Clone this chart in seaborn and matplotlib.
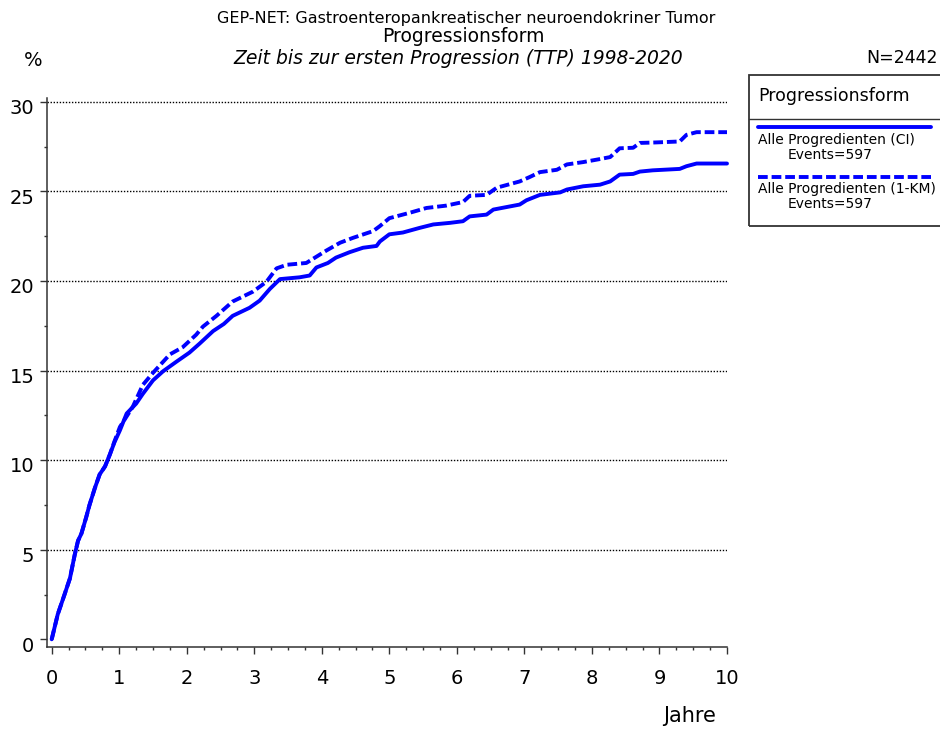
import numpy as np
import pandas as pd
import matplotlib
matplotlib.use("Agg")
import matplotlib.pyplot as plt
import seaborn as sns
from matplotlib.lines import Line2D
from matplotlib.patches import Rectangle
from matplotlib.ticker import MultipleLocator, FixedLocator
import matplotlib.transforms as mtransforms

# ---------------- data ----------------
t_ci = [0.0, 0.09, 0.19, 0.27, 0.34, 0.39, 0.44, 0.51, 0.56, 0.64, 0.71, 0.79, 0.86, 0.93,
        1.01, 1.11, 1.25, 1.35, 1.5, 1.65, 1.85, 2.04, 2.19, 2.39, 2.55, 2.68, 2.93, 3.08,
        3.23, 3.38, 3.67, 3.82, 3.92, 4.09, 4.21, 4.41, 4.61, 4.81, 4.86, 5.0, 5.2, 5.45,
        5.65, 5.9, 6.09, 6.19, 6.44, 6.54, 6.93, 7.03, 7.23, 7.53, 7.63, 7.87, 8.12, 8.27,
        8.41, 8.61, 8.71, 8.9, 9.3, 9.4, 9.55, 10.0]
v_ci = [0.0, 1.4, 2.5, 3.4, 4.7, 5.5, 5.9, 6.8, 7.5, 8.45, 9.2, 9.65, 10.3, 11.0,
        11.66, 12.6, 13.15, 13.7, 14.45, 14.96, 15.5, 16.0, 16.5, 17.2, 17.6, 18.05, 18.5, 18.9,
        19.55, 20.1, 20.2, 20.3, 20.75, 21.0, 21.3, 21.6, 21.85, 21.95, 22.2, 22.6, 22.7, 22.96,
        23.15, 23.24, 23.33, 23.6, 23.7, 23.98, 24.26, 24.5, 24.8, 24.94, 25.1, 25.28, 25.37, 25.55,
        25.93, 25.97, 26.1, 26.17, 26.25, 26.4, 26.55, 26.55]

t_km = [0.0, 0.09, 0.19, 0.27, 0.34, 0.39, 0.44, 0.51, 0.56, 0.64, 0.71, 0.79, 0.86, 0.93,
        1.01, 1.2, 1.35, 1.5, 1.75, 1.94, 2.14, 2.24, 2.44, 2.68, 2.98, 3.18, 3.33, 3.48,
        3.77, 3.92, 4.07, 4.27, 4.46, 4.76, 4.86, 5.0, 5.3, 5.55, 5.84, 6.09, 6.19, 6.44,
        6.59, 6.93, 7.08, 7.23, 7.48, 7.63, 7.87, 8.12, 8.27, 8.41, 8.61, 8.71, 8.9, 9.3,
        9.4, 9.55, 10.0]
v_km = [0.0, 1.4, 2.5, 3.4, 4.7, 5.5, 5.9, 6.8, 7.5, 8.45, 9.2, 9.65, 10.3, 11.05,
        11.85, 12.97, 14.2, 14.87, 15.9, 16.3, 17.0, 17.45, 18.05, 18.85, 19.4, 19.95, 20.7, 20.9,
        21.0, 21.35, 21.7, 22.13, 22.4, 22.78, 23.06, 23.5, 23.8, 24.07, 24.2, 24.4, 24.75, 24.8,
        25.2, 25.55, 25.8, 26.07, 26.2, 26.5, 26.63, 26.8, 26.91, 27.4, 27.43, 27.7, 27.72, 27.78,
        28.15, 28.3, 28.3]

series_names = ["Alle Progredienten (CI)", "Alle Progredienten (1-KM)"]
events = [597, 597]
n_total = 2442
x_ticks = [0, 1, 2, 3, 4, 5, 6, 7, 8, 9, 10]
y_ticks = [0, 5, 10, 15, 20, 25, 30]

title1 = "GEP-NET: Gastroenteropankreatischer neuroendokriner Tumor"
title2 = "Progressionsform"
title3 = "Zeit bis zur ersten Progression (TTP) 1998-2020"
legend_title = "Progressionsform"

# ---------------- style ----------------
sns.set_style("ticks")
plt.rcParams['font.family'] = ['DejaVu Sans']
plt.rcParams['text.color'] = 'black'
plt.rcParams['xtick.color'] = '#333333'
plt.rcParams['ytick.color'] = '#333333'
plt.rcParams['xtick.labelcolor'] = 'black'
plt.rcParams['ytick.labelcolor'] = 'black'

BLUE = "#0000FF"
W, H = 940, 729
fig = plt.figure(figsize=(W / 100, H / 100), dpi=100)


def fx(px):
    return px / W


def fy(py):
    return 1 - py / H


ax = fig.add_axes([fx(46.7), fy(646.7), fx(727) - fx(46.7), fy(98) - fy(646.7)])

df = pd.concat([
    pd.DataFrame({"Jahre": t_ci, "Pct": v_ci, "Serie": series_names[0]}),
    pd.DataFrame({"Jahre": t_km, "Pct": v_km, "Serie": series_names[1]}),
], ignore_index=True)

DASH = (2.5, 1.0)
sns.lineplot(data=df, x="Jahre", y="Pct", hue="Serie", style="Serie",
             palette=[BLUE, BLUE],
             dashes={series_names[0]: "", series_names[1]: DASH},
             estimator=None, sort=False, linewidth=2.8, legend=False, ax=ax)
for ln in ax.get_lines():
    ln.set_clip_on(False)
    ln.set_zorder(3)
    ln.set_solid_capstyle("round")

ax.set_xlim(-5 / 67.5, 10)
ax.set_ylim(-7.4 / 17.92, 30 + 3.7 / 17.92)

ax.xaxis.set_major_locator(FixedLocator(x_ticks))
ax.yaxis.set_major_locator(FixedLocator(y_ticks))
ax.xaxis.set_minor_locator(MultipleLocator(0.25))
ax.yaxis.set_minor_locator(MultipleLocator(2.5))
ax.set_xticklabels([str(v) for v in x_ticks])
ax.set_yticklabels([str(v) for v in y_ticks])

# dotted gridlines (not at 0)
for yv in y_ticks[1:]:
    ax.axhline(yv, color="black", lw=1.0, ls=(0, (1, 1.2)), zorder=1)

for s in ["top", "right"]:
    ax.spines[s].set_visible(False)
for s in ["left", "bottom"]:
    ax.spines[s].set_linewidth(1.1)
    ax.spines[s].set_color("#333333")

ax.tick_params(axis="both", which="major", length=5, width=1, color="#333333",
               labelsize=14, labelcolor="black")
ax.tick_params(axis="x", which="major", pad=11)
ax.tick_params(axis="y", which="major", pad=3.8)
ax.tick_params(axis="both", which="minor", length=2.5, width=1, color="#333333")
ax.set_xlabel("")
ax.set_ylabel("")

off = mtransforms.ScaledTranslation(0, -3.5 / 72, fig.dpi_scale_trans)
for lbl in ax.get_yticklabels():
    lbl.set_transform(lbl.get_transform() + off)

# ---------------- titles / axis labels ----------------
fig.text(fx(466), fy(19), title1, ha="center", va="center", fontsize=11.5, color="black")
fig.text(fx(463), fy(37), title2, ha="center", va="center", fontsize=13.5, color="black")
fig.text(fx(458), fy(58), title3, ha="center", va="center", fontsize=13.5, style="italic",
         color="black")
fig.text(fx(938), fy(58), f"N={n_total}", ha="right", va="center", fontsize=12.5, color="black")
fig.text(fx(33), fy(60), "%", ha="center", va="center", fontsize=14, color="black")
fig.text(fx(690), fy(716), "Jahre", ha="center", va="center", fontsize=15, color="black")

# ---------------- legend box ----------------
box = Rectangle((fx(749.3), fy(226)), fx(970) - fx(749.3), fy(75) - fy(226),
                transform=fig.transFigure, fill=False, lw=1.3, ec="#333333")
fig.add_artist(box)
fig.add_artist(Line2D([fx(749.3), 1.0], [fy(119.3), fy(119.3)], transform=fig.transFigure,
                      color="#333333", lw=1.0))
fig.text(fx(758), fy(96), legend_title, ha="left", va="center", fontsize=12.5, color="black")

rows = [(126.5, "", 140, 155), (176.5, DASH, 189, 204)]
for (ly, dsh, ty1, ty2), name, ev in zip(rows, series_names, events):
    ln = Line2D([fx(758), fx(931)], [fy(ly), fy(ly)], transform=fig.transFigure,
                color=BLUE, lw=2.8)
    if dsh:
        ln.set_dashes(dsh)
    fig.add_artist(ln)
    fig.text(fx(758), fy(ty1), name, ha="left", va="center", fontsize=10, color="black")
    fig.text(fx(788), fy(ty2), f"Events={ev}", ha="left", va="center", fontsize=10,
             color="black")

fig.savefig("out.png", dpi=100)
